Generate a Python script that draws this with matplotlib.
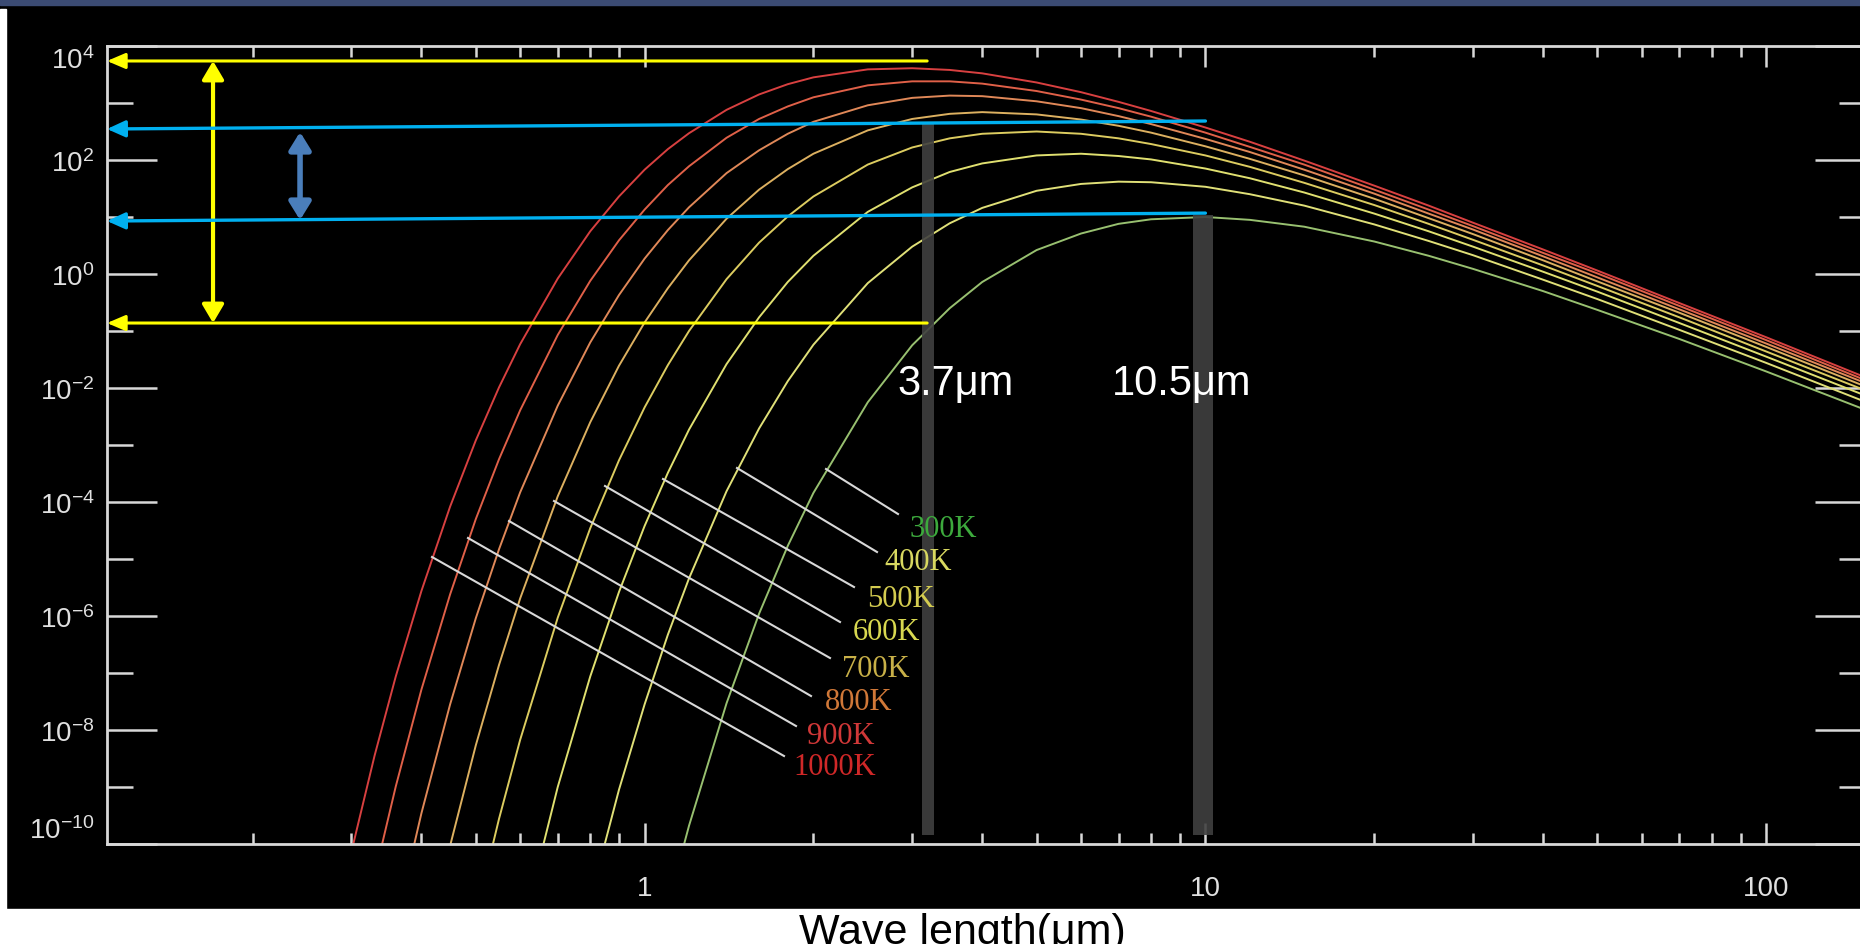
import numpy as np
import matplotlib.pyplot as plt
from matplotlib.patches import Rectangle, FancyArrowPatch
from matplotlib.lines import Line2D
from matplotlib.ticker import NullFormatter

plt.rcParams["font.family"] = ["Liberation Sans", "DejaVu Sans"]
plt.rcParams["mathtext.default"] = "regular"

W, H = 1860, 945
N = np.nan

wavelength = [0.28, 0.3, 0.33, 0.36, 0.4, 0.45, 0.5, 0.55, 0.6, 0.7, 0.8, 0.9,
              1.0, 1.1, 1.2, 1.4, 1.6, 1.8, 2.0, 2.5, 3, 3.5, 4, 5, 6, 7, 8,
              10, 12, 15, 20, 25, 30, 40, 50, 70, 100, 150]

log_b_300 = [N] * 13 + [-11.07, -9.68, -7.53, -5.96, -4.77, -3.84, -2.25, -1.25, -0.60,
                        -0.14, 0.42, 0.71, 0.88, 0.96, 1.00, 0.95, 0.83, 0.57, 0.32, 0.09,
                        -0.30, -0.63, -1.14, -1.71, -2.38]
log_b_400 = [N] * 10 + [-10.97, -9.05, -7.55, -6.33, -5.34, -3.81, -2.71, -1.88, -1.24,
                        -0.16, 0.48, 0.89, 1.16, 1.46, 1.58, 1.62, 1.61, 1.53, 1.40, 1.20,
                        0.87, 0.58, 0.33, -0.10, -0.44, -0.98, -1.56, -2.24]
log_b_500 = [N] * 8 + [-11.64, -9.00, -7.06, -5.58, -4.42, -3.49, -2.73, -1.58, -0.76,
                       -0.14, 0.32, 1.09, 1.52, 1.79, 1.94, 2.08, 2.11, 2.07, 2.01, 1.85,
                       1.68, 1.43, 1.06, 0.75, 0.48, 0.04, -0.31, -0.86, -1.45, -2.13]
log_b_600 = [N] * 6 + [-11.25, -9.56, -8.17, -6.03, -4.46, -3.27, -2.34, -1.60, -1.00,
                       -0.09, 0.55, 1.01, 1.36, 1.92, 2.22, 2.38, 2.46, 2.50, 2.46, 2.38,
                       2.28, 2.08, 1.88, 1.60, 1.21, 0.88, 0.60, 0.15, -0.21, -0.76, -1.36,
                       -2.04]
log_b_700 = [N] * 5 + [-10.03, -8.27, -6.86, -5.69, -3.90, -2.60, -1.61, -0.85, -0.25,
                       0.24, 0.97, 1.48, 1.84, 2.11, 2.52, 2.72, 2.81, 2.84, 2.80, 2.71,
                       2.60, 2.48, 2.24, 2.02, 1.73, 1.32, 0.98, 0.70, 0.24, -0.13, -0.68,
                       -1.28, -1.97]
log_b_800 = [N] * 3 + [-11.40, -9.46, -7.55, -6.04, -4.83, -3.83, -2.31, -1.20, -0.37,
                       0.27, 0.77, 1.17, 1.77, 2.17, 2.46, 2.67, 2.96, 3.09, 3.13, 3.12,
                       3.03, 2.91, 2.77, 2.63, 2.37, 2.14, 1.83, 1.41, 1.06, 0.78, 0.31,
                       -0.06, -0.62, -1.22, -1.91]
log_b_900 = [N] * 2 + [-10.56, -8.99, -7.29, -5.62, -4.30, -3.25, -2.39, -1.07, -0.12,
                       0.59, 1.13, 1.56, 1.89, 2.39, 2.72, 2.94, 3.10, 3.31, 3.38, 3.38,
                       3.34, 3.21, 3.06, 2.91, 2.76, 2.48, 2.23, 1.92, 1.48, 1.13, 0.84,
                       0.37, 0.01, -0.56, -1.16, -1.86]
log_b_1000 = [N] + [-10.14, -8.45, -7.06, -5.56, -4.08, -2.92, -1.99, -1.23, -0.08, 0.75,
                    1.36, 1.83, 2.19, 2.47, 2.88, 3.15, 3.33, 3.45, 3.59, 3.61, 3.58, 3.52,
                    3.36, 3.19, 3.02, 2.86, 2.57, 2.32, 1.99, 1.55, 1.20, 0.90, 0.43, 0.06,
                    -0.51, -1.11, -1.81]

temp_labels = ["300K", "400K", "500K", "600K", "700K", "800K", "900K", "1000K"]
log_b = [log_b_300, log_b_400, log_b_500, log_b_600, log_b_700, log_b_800, log_b_900,
         log_b_1000]

y_major = [1e-10, 1e-8, 1e-6, 1e-4, 1e-2, 1e0, 1e2, 1e4]
y_major_labels = ["$10^{-10}$", "$10^{-8}$", "$10^{-6}$", "$10^{-4}$", "$10^{-2}$",
                  "$10^{0}$", "$10^{2}$", "$10^{4}$"]
y_minor = [1e-9, 1e-7, 1e-5, 1e-3, 1e-1, 1e1, 1e3]
x_major = [1, 10, 100]
x_major_labels = ["1", "10", "100"]
x_minor = [0.2, 0.3, 0.4, 0.5, 0.6, 0.7, 0.8, 0.9, 2, 3, 4, 5, 6, 7, 8, 9,
           20, 30, 40, 50, 60, 70, 80, 90]

# Bandas marcadas (um) y su altura
band_labels = ["3.7μm", "10.5μm"]
band_span = [(3.125, 3.28), (9.52, 10.33)]
band_top = [428, 10.8]
band_bottom = 1.44e-10

# Niveles de las flechas de anotacion
yellow_levels = [5460, 0.138]
yellow_x_end = 3.19
blue_levels = [(350, 483), (8.5, 11.7)]
blue_x_end = 10.0

line_colors = ["#98c070", "#e0e078", "#e0e070", "#dccc60", "#dcb060", "#e08858",
               "#e06048", "#d84040"]
label_colors = ["#3daa3d", "#d8d860", "#d4cc50", "#d8d850", "#c8b048", "#d07838",
                "#d03838", "#d02828"]


def fx(px):
    return px / W


def fy(py):
    return 1 - py / H


fig = plt.figure(figsize=(W / 100, H / 100), dpi=100, facecolor="black")
fig.add_artist(Rectangle((0, fy(6)), 1, 6 / H, transform=fig.transFigure,
                         color="#3b4b73", zorder=0))
fig.add_artist(Rectangle((0, 0), 1, 35 / H, transform=fig.transFigure,
                         color="white", zorder=0))
fig.add_artist(Rectangle((0, fy(910)), 6 / W, 900 / H, transform=fig.transFigure,
                         color="white", zorder=0))

ax = fig.add_axes([fx(107), fy(845), (1865 - 107) / W, (845 - 47) / H])
ax.set_facecolor("black")
ax.set_xscale("log")
ax.set_yscale("log")
ax.set_xlim(0.11, 150)
ax.set_ylim(1e-10, 1e4)

for vals, col in zip(log_b, line_colors):
    ax.plot(wavelength, 10 ** np.array(vals), color=col, lw=1.4, zorder=2)

# Bandas grises
for (x0, x1), top in zip(band_span, band_top):
    ax.add_patch(Rectangle((x0, band_bottom), x1 - x0, top - band_bottom,
                           color="#404040", alpha=0.9, lw=0, zorder=3))

# Flechas amarillas
for lev in yellow_levels:
    ax.add_patch(FancyArrowPatch((yellow_x_end, lev), (0.11, lev),
                                 arrowstyle="-|>,head_length=11,head_width=4.7",
                                 mutation_scale=1, color="#ffff00", lw=2.2,
                                 shrinkA=0, shrinkB=0, zorder=5))
ax.add_patch(FancyArrowPatch((0.17, yellow_levels[1]), (0.17, yellow_levels[0]),
                             arrowstyle="<|-|>,head_length=11,head_width=6.5",
                             mutation_scale=1, color="#ffff00", lw=3,
                             shrinkA=0, shrinkB=0, zorder=5))

# Flechas azules
for y_left, y_right in blue_levels:
    ax.add_patch(FancyArrowPatch((blue_x_end, y_right), (0.11, y_left),
                                 arrowstyle="-|>,head_length=11,head_width=5",
                                 mutation_scale=1, color="#00b0f0", lw=2.4,
                                 shrinkA=0, shrinkB=0, zorder=5))
ax.add_patch(FancyArrowPatch((0.243, 8.85), (0.243, 310),
                             arrowstyle="<|-|>,head_length=10.5,head_width=6.5",
                             mutation_scale=1, color="#4a7ebb", lw=4,
                             shrinkA=0, shrinkB=0, zorder=5))

# Ejes
for sp in ax.spines.values():
    sp.set_color("#d8d8d8")
    sp.set_linewidth(2)
ax.set_xticks(x_major, labels=x_major_labels)
ax.set_xticks(x_minor, minor=True)
ax.set_yticks(y_major, labels=y_major_labels)
ax.set_yticks(y_minor, minor=True)
ax.xaxis.set_minor_formatter(NullFormatter())
ax.yaxis.set_minor_formatter(NullFormatter())
ax.tick_params(which="both", direction="in", top=True, right=True, color="#d8d8d8",
               width=1.8, labelcolor="#e0e0e0", labelsize=20)
ax.tick_params(axis="x", which="major", length=15, pad=22)
ax.tick_params(axis="x", which="minor", length=8)
ax.tick_params(axis="y", which="major", length=36, pad=9)
ax.tick_params(axis="y", which="minor", length=19)
yt = ax.yaxis.get_major_ticks()
yt[0].label1.set_verticalalignment("bottom")
yt[-1].label1.set_verticalalignment("top")

# Lineas guia y etiquetas de temperatura (pixeles de la figura)
leader_px = [((826, 470), (898, 515)), ((737, 469), (877, 553)),
             ((663, 480), (854, 588)), ((605, 487), (840, 623)),
             ((554, 502), (830, 659)), ((509, 522), (811, 697)),
             ((468, 539), (796, 727)), ((432, 558), (784, 757))]
label_px = [(909, 530), (884, 563), (867, 600), (853, 633), (842, 670),
            (825, 702), (807, 737), (793, 768)]
for ((x0, y0), (x1, y1)), (lx, ly), txt, col in zip(leader_px, label_px,
                                                     temp_labels, label_colors):
    fig.add_artist(Line2D([fx(x0), fx(x1)], [fy(y0), fy(y1)],
                          transform=fig.transFigure, color="#d8d8d8", lw=1.5,
                          zorder=4))
    fig.text(fx(lx), fy(ly), txt, color=col, fontsize=22, va="center", ha="left",
             family=["Liberation Serif", "DejaVu Serif"], zorder=6)

# Etiquetas de las bandas
fig.text(fx(897), fy(395), band_labels[0], color="white", fontsize=30,
         va="baseline", ha="left", zorder=6)
fig.text(fx(1112), fy(395), band_labels[1], color="white", fontsize=30,
         va="baseline", ha="left", zorder=6)

fig.text(fx(962), fy(944), "Wave length(μm)", color="black", fontsize=31,
         va="baseline", ha="center")

fig.savefig("out.png", dpi=100, facecolor="black")
